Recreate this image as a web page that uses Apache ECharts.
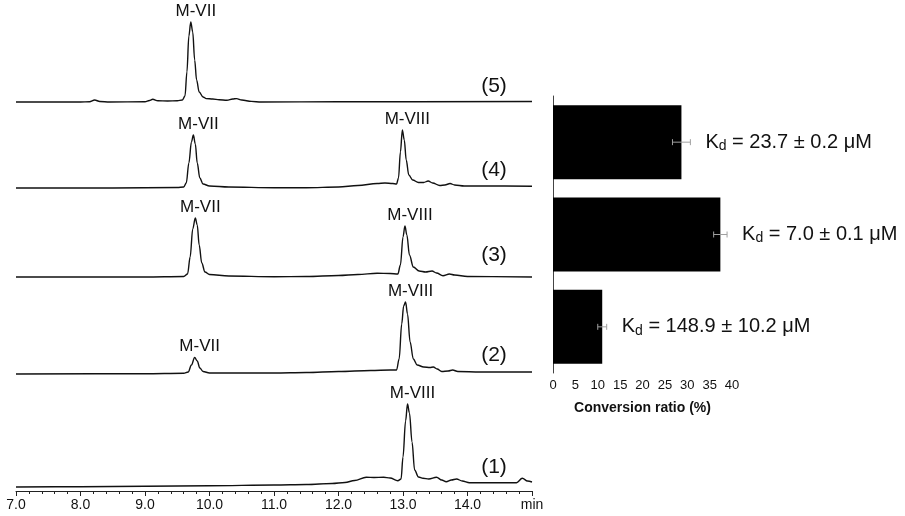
<!DOCTYPE html>
<html>
<head>
<meta charset="utf-8">
<script src="https://cdn.jsdelivr.net/npm/echarts@6/dist/echarts.min.js"></script>
<style>
  html, body { margin: 0; padding: 0; background: #fff; }
  #main { width: 905px; height: 516px; }
</style>
</head>
<body>
<div id="main"></div>
<script>
// chromatogram traces: [time (min), signal above baseline]
const trace5 = [[7.0,0],[8.0,0],[8.14,0.3],[8.22,2],[8.3,0.5],[8.45,0],[9.0,0.3],[9.07,1.5],[9.12,2.7],[9.2,1.2],[9.35,1],[9.5,1.2],[9.58,2],[9.62,6],[9.65,30],[9.68,66],[9.71,80],[9.74,70],[9.77,42],[9.8,22],[9.84,10],[9.9,5],[9.95,3.4],[10.05,3],[10.15,2.2],[10.27,1.7],[10.36,3],[10.42,3.4],[10.5,2],[10.65,0.6],[10.8,0],[12.0,0.2],[15.0,0.5]];
const trace4 = [[7.0,0],[8.5,0],[9.5,0.5],[9.6,1],[9.64,5],[9.68,25],[9.72,46],[9.75,53],[9.78,44],[9.81,25],[9.85,10],[9.9,4],[10.0,2],[10.3,1],[11.0,0.3],[11.5,0.3],[12.0,1],[12.3,2.5],[12.6,4.5],[12.72,5],[12.84,4.5],[12.9,4],[12.93,10],[12.96,36],[12.99,58],[13.02,48],[13.05,28],[13.09,13],[13.15,8],[13.24,5.5],[13.32,5.5],[13.39,7],[13.46,5],[13.57,2.5],[13.65,3],[13.73,4.5],[13.8,3],[13.95,2],[14.3,2],[15.0,1.8]];
const trace3 = [[7.0,0],[9.0,0],[9.6,0.5],[9.66,3],[9.7,20],[9.74,48],[9.78,59],[9.81,52],[9.84,32],[9.88,14],[9.93,5],[10.0,2.5],[10.3,1],[11.0,0.3],[11.5,0.5],[12.0,1.5],[12.3,2.5],[12.6,3.7],[12.8,3.5],[12.92,3],[12.96,12],[13.0,40],[13.03,51],[13.06,42],[13.1,22],[13.16,10],[13.25,6],[13.35,5],[13.45,6],[13.52,4],[13.62,1.3],[13.72,3],[13.8,2],[14.0,0.5],[15.0,0]];
const trace2 = [[7.0,0],[9.0,0.3],[9.6,0.8],[9.67,2],[9.72,9],[9.77,16.5],[9.81,13],[9.85,6],[9.9,2.5],[10.0,1],[10.5,1],[11.0,1],[11.5,1.5],[12.0,2.5],[12.5,3.5],[12.8,4],[12.9,4],[12.94,15],[12.98,50],[13.01,68],[13.04,72],[13.07,60],[13.11,32],[13.16,15],[13.22,9],[13.32,7],[13.42,6.5],[13.47,7],[13.53,5],[13.6,2.5],[13.7,3],[13.77,4],[13.85,2.5],[14.2,2],[15.0,2]];
const trace1 = [[7.0,0],[8.0,0.3],[9.0,0.8],[10.0,1.3],[11.0,2],[11.5,2.5],[11.9,3.5],[12.1,4.5],[12.25,6.5],[12.43,9.7],[12.55,9.5],[12.7,9.7],[12.8,9],[12.92,6.3],[12.97,8],[13.0,30],[13.04,66],[13.07,83],[13.1,74],[13.14,45],[13.18,17],[13.24,10],[13.31,8.7],[13.4,8],[13.52,9.7],[13.6,7],[13.67,5.3],[13.75,7],[13.83,8],[13.92,6],[14.03,4.3],[14.5,4.3],[14.76,4.3],[14.85,8.7],[14.93,6],[15.0,5]];

const traces = [trace5, trace4, trace3, trace2, trace1];
const traceNames = ['(5)', '(4)', '(3)', '(2)', '(1)'];
const peakLabels = [
  [['M-VII', 9.71]],
  [['M-VII', 9.75], ['M-VIII', 12.99]],
  [['M-VII', 9.78], ['M-VIII', 13.03]],
  [['M-VII', 9.77], ['M-VIII', 13.04]],
  [['M-VIII', 13.07]]
];
const timeTicks = [7, 8, 9, 10, 11, 12, 13, 14, 15];

// conversion ratio bars, top to bottom
const barCategories = ['(4)', '(3)', '(2)'];
const conversion = [28.7, 37.4, 11.0];
const conversionErr = [2.0, 1.5, 1.0];
const kdText = ['23.7 ± 0.2', '7.0 ± 0.1', '148.9 ± 10.2'];

// layout: pixel row of each trace baseline
const baselineY = [102, 188, 277, 374, 487];
const nameY = [86, 170, 255, 355, 467];
const FONT = 'Liberation Sans, Arial, Helvetica, sans-serif';

const chart = echarts.init(document.getElementById('main'), null, { renderer: 'canvas' });

const grid = [], xAxis = [], yAxis = [], series = [];
traces.forEach((tr, i) => {
  const last = i === traces.length - 1;
  grid.push({ left: 16, width: 516, top: baselineY[i] - 90, height: 94 });
  xAxis.push({
    gridIndex: i, type: 'value', min: timeTicks[0], max: timeTicks[timeTicks.length - 1], interval: 1, show: last,
    axisLine: { onZero: false, lineStyle: { color: '#222', width: 1 } },
    axisTick: { length: 5, lineStyle: { color: '#222' } },
    minorTick: { show: true, splitNumber: 5, length: 3, lineStyle: { color: '#222' } },
    splitLine: { show: false },
    axisLabel: {
      color: '#111', fontSize: 14, fontFamily: FONT, margin: 7,
      formatter: (v) => (v === timeTicks[timeTicks.length - 1] ? 'min' : v.toFixed(1))
    }
  });
  yAxis.push({ gridIndex: i, type: 'value', min: -4, max: 90, show: false });
  series.push({
    type: 'line',
    xAxisIndex: i, yAxisIndex: i,
    data: tr,
    showSymbol: false,
    smooth: 0.35,
    smoothMonotone: 'x',
    lineStyle: { color: '#111', width: 1.4 },
    silent: true,
    markPoint: {
      symbol: 'circle', symbolSize: 1,
      itemStyle: { color: 'rgba(0,0,0,0)' },
      label: {
        show: true, position: 'top', distance: 2, offset: [5, 0],
        color: '#111', fontSize: 17, fontFamily: FONT,
        formatter: (p) => p.name
      },
      data: peakLabels[i].map(([name, t]) => {
        const pt = tr.find((d) => d[0] === t);
        return { name, coord: [t, pt[1]] };
      })
    }
  });
});

// bar chart grid
const bi = traces.length;
grid.push({ left: 553, top: 96, width: 179, height: 277 });
xAxis.push({
  gridIndex: bi, type: 'value', min: 0, max: 40, interval: 5,
  name: 'Conversion ratio (%)', nameLocation: 'middle', nameGap: 28,
  nameTextStyle: { color: '#111', fontSize: 14, fontWeight: 'bold', fontFamily: FONT },
  axisLine: { lineStyle: { color: '#444' } },
  axisTick: { length: 4, lineStyle: { color: '#444' } },
  splitLine: { show: false },
  axisLabel: { color: '#111', fontSize: 13, fontFamily: FONT, margin: 6 }
});
yAxis.push({
  gridIndex: bi, type: 'category', data: barCategories, inverse: true,
  axisLine: { lineStyle: { color: '#444' } },
  axisTick: { length: 6, lineStyle: { color: '#444' } },
  axisLabel: { show: false },
  splitLine: { show: false }
});
series.push({
  type: 'bar', xAxisIndex: bi, yAxisIndex: bi,
  data: conversion, barWidth: 74,
  itemStyle: { color: '#000' }, silent: true
});
series.push({
  type: 'custom', xAxisIndex: bi, yAxisIndex: bi,
  data: conversion.map((v, k) => [k, v, conversionErr[k]]),
  encode: { x: 1, y: 0 },
  silent: true, z: 5,
  renderItem: (params, api) => {
    const c = api.value(0), v = api.value(1), e = api.value(2);
    const lo = api.coord([v - e, c]);
    const hi = api.coord([v + e, c]);
    const st = { stroke: '#a0a0a0', lineWidth: 1 };
    return {
      type: 'group',
      children: [
        { type: 'line', shape: { x1: lo[0], y1: lo[1], x2: hi[0], y2: hi[1] }, style: st },
        { type: 'line', shape: { x1: lo[0], y1: lo[1] - 3, x2: lo[0], y2: lo[1] + 3 }, style: st },
        { type: 'line', shape: { x1: hi[0], y1: hi[1] - 3, x2: hi[0], y2: hi[1] + 3 }, style: st },
        {
          type: 'text', x: hi[0] + 15, y: hi[1],
          style: {
            text: '{k|K}{d|d}{t| = ' + kdText[params.dataIndex] + ' μM}',
            verticalAlign: 'middle', align: 'left',
            rich: {
              k: { fontSize: 20, fontFamily: FONT, fill: '#111', lineHeight: 22 },
              d: { fontSize: 14, fontFamily: FONT, fill: '#111', verticalAlign: 'bottom', lineHeight: 16 },
              t: { fontSize: 20, fontFamily: FONT, fill: '#111', lineHeight: 22 }
            }
          }
        }
      ]
    };
  }
});

chart.setOption({
  backgroundColor: '#fff',
  animation: false,
  textStyle: { fontFamily: FONT },
  grid, xAxis, yAxis, series,
  graphic: traceNames.map((t, i) => ({
    type: 'text', x: 494, y: nameY[i],
    style: { text: t, fontSize: 21, fontFamily: FONT, fill: '#111', align: 'center', verticalAlign: 'middle' }
  }))
});
</script>
</body>
</html>
